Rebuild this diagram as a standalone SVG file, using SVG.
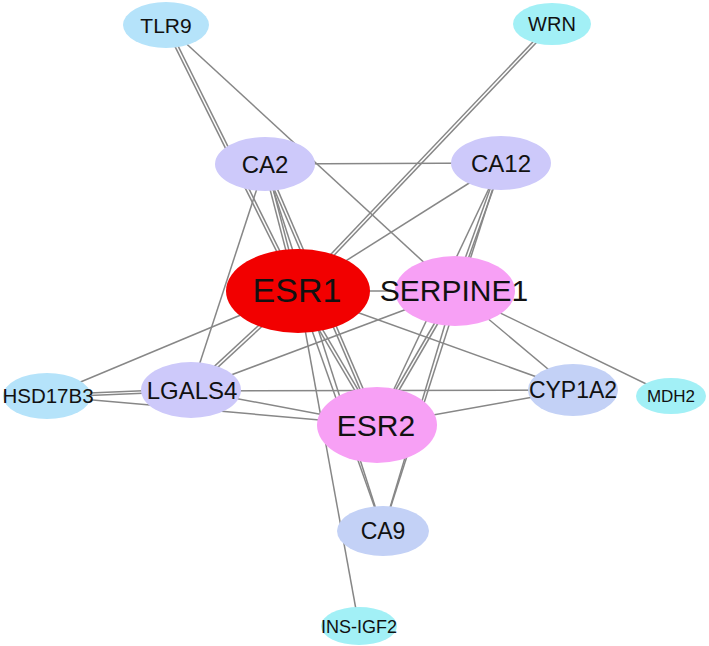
<svg xmlns="http://www.w3.org/2000/svg" width="709" height="646" viewBox="0 0 709 646">
<style>
.e line{stroke:#878787;stroke-width:1.5;fill:none}
text{font-family:"Liberation Sans",Arial,sans-serif;fill:#111;text-anchor:middle}
.sky{fill:#b5e3fa}.cyan{fill:#a2f0f6}.lav{fill:#cdc9fa}.blu{fill:#c3d1f6}.pink{fill:#f7a0f5}.red{fill:#f20000}
</style>
<rect width="709" height="646" fill="#fff"/>
<g id="edges" class="e">
<line x1="164.66" y1="25.67" x2="296.66" y2="291.67"/>
<line x1="167.34" y1="24.33" x2="299.34" y2="290.33"/>
<line x1="166" y1="25" x2="455" y2="291"/>
<line x1="550.91" y1="22.97" x2="296.91" y2="289.97"/>
<line x1="553.09" y1="25.03" x2="299.09" y2="292.03"/>
<line x1="265" y1="164" x2="501" y2="163"/>
<line x1="263.55" y1="164.38" x2="296.55" y2="291.38"/>
<line x1="266.45" y1="163.62" x2="299.45" y2="290.62"/>
<line x1="263.62" y1="164.59" x2="375.62" y2="425.59"/>
<line x1="266.38" y1="163.41" x2="378.38" y2="424.41"/>
<line x1="265" y1="164" x2="191" y2="390"/>
<line x1="265" y1="164" x2="383" y2="531"/>
<line x1="501" y1="163" x2="298" y2="291"/>
<line x1="501" y1="163" x2="377" y2="425"/>
<line x1="499.59" y1="162.49" x2="453.59" y2="290.49"/>
<line x1="502.41" y1="163.51" x2="456.41" y2="291.51"/>
<line x1="501" y1="163" x2="383" y2="531"/>
<line x1="298" y1="291" x2="455" y2="291"/>
<line x1="298" y1="291" x2="47" y2="396"/>
<line x1="296.98" y1="289.9" x2="189.98" y2="388.9"/>
<line x1="299.02" y1="292.1" x2="192.02" y2="391.1"/>
<line x1="296.71" y1="291.76" x2="375.71" y2="425.76"/>
<line x1="299.29" y1="290.24" x2="378.29" y2="424.24"/>
<line x1="298" y1="291" x2="573" y2="390"/>
<line x1="298" y1="291" x2="383" y2="531"/>
<line x1="298" y1="291" x2="359" y2="626"/>
<line x1="455" y1="291" x2="191" y2="390"/>
<line x1="453.7" y1="290.25" x2="375.7" y2="424.25"/>
<line x1="456.3" y1="291.75" x2="378.3" y2="425.75"/>
<line x1="455" y1="291" x2="383" y2="531"/>
<line x1="455" y1="291" x2="573" y2="390"/>
<line x1="455" y1="291" x2="671" y2="396"/>
<line x1="47" y1="394.8" x2="191" y2="388.8"/>
<line x1="47" y1="397.2" x2="191" y2="391.2"/>
<line x1="47" y1="396" x2="377" y2="425"/>
<line x1="191" y1="391" x2="573" y2="390"/>
<line x1="191" y1="390" x2="377" y2="425"/>
<line x1="377" y1="425" x2="573" y2="390"/>
</g>
<g id="TLR9"><ellipse class="sky" cx="166" cy="25" rx="43" ry="23"/><text x="166" y="32.5" font-size="21">TLR9</text></g>
<g id="WRN"><ellipse class="cyan" cx="552" cy="24" rx="39" ry="21"/><text x="552" y="31" font-size="20">WRN</text></g>
<g id="CA2"><ellipse class="lav" cx="265" cy="164" rx="50" ry="27"/><text x="265" y="172.5" font-size="24">CA2</text></g>
<g id="CA12"><ellipse class="lav" cx="501" cy="163" rx="50" ry="27"/><text x="501" y="171.5" font-size="24">CA12</text></g>
<g id="ESR1"><ellipse class="red" cx="298" cy="291" rx="72" ry="42"/><text x="297" y="302" font-size="34">ESR1</text></g>
<g id="SERPINE1"><ellipse class="pink" cx="455" cy="291" rx="60" ry="35"/><text x="454" y="301" font-size="30">SERPINE1</text></g>
<g id="HSD17B3"><ellipse class="sky" cx="47" cy="396" rx="44" ry="23"/><text x="48" y="403" font-size="20.5">HSD17B3</text></g>
<g id="LGALS4"><ellipse class="lav" cx="191" cy="390" rx="50" ry="28"/><text x="192" y="398.5" font-size="24">LGALS4</text></g>
<g id="CYP1A2"><ellipse class="blu" cx="573" cy="390" rx="45" ry="26"/><text x="573" y="398" font-size="23">CYP1A2</text></g>
<g id="MDH2"><ellipse class="cyan" cx="671" cy="396" rx="35" ry="18"/><text x="671" y="402" font-size="17">MDH2</text></g>
<g id="ESR2"><ellipse class="pink" cx="377" cy="425" rx="60" ry="38"/><text x="376" y="435.5" font-size="30">ESR2</text></g>
<g id="CA9"><ellipse class="blu" cx="383" cy="531" rx="46" ry="25"/><text x="383" y="539" font-size="23">CA9</text></g>
<g id="INS-IGF2"><ellipse class="cyan" cx="359" cy="626" rx="38" ry="19"/><text x="359" y="632.5" font-size="18">INS-IGF2</text></g>
</svg>
